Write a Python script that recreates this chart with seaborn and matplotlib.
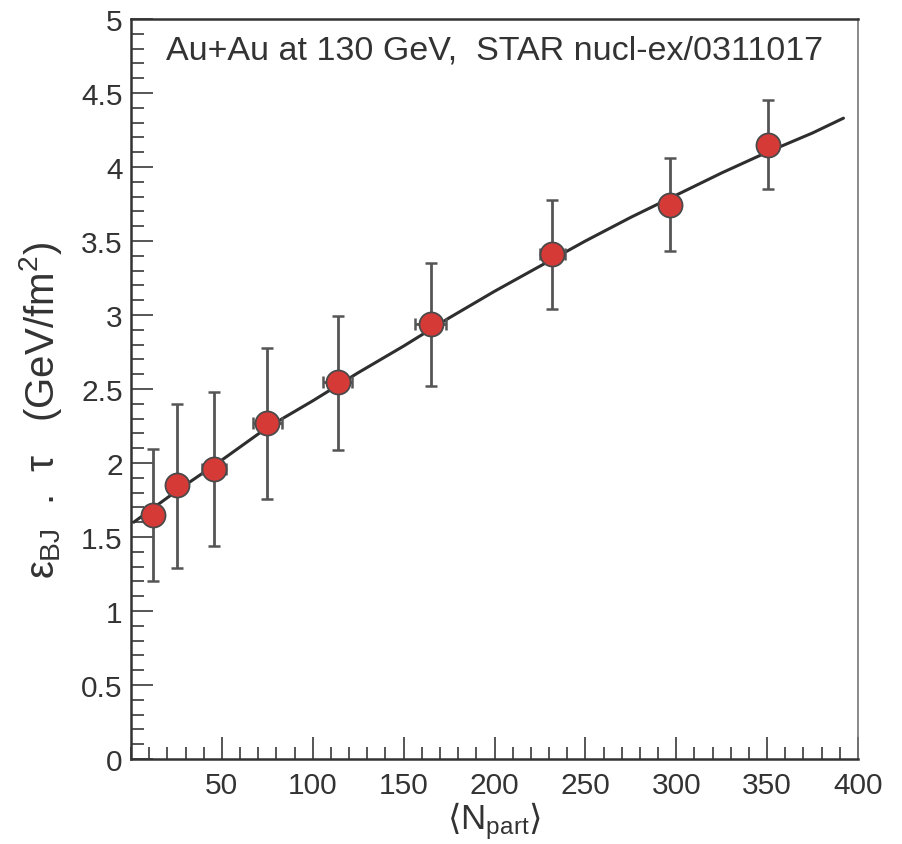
import numpy as np
import pandas as pd
import matplotlib
matplotlib.use("Agg")
import matplotlib.pyplot as plt
from matplotlib.ticker import MultipleLocator
import seaborn as sns

# ---- data ----
npart = [12.1, 25.3, 45.8, 75.1, 113.7, 165.0, 231.9, 296.3, 350.5]
eps_tau = [1.65, 1.85, 1.96, 2.27, 2.545, 2.94, 3.41, 3.74, 4.15]
err_low = [0.445, 0.56, 0.52, 0.51, 0.455, 0.42, 0.37, 0.31, 0.30]
err_high = [0.445, 0.55, 0.52, 0.51, 0.445, 0.41, 0.37, 0.32, 0.30]
npart_err = [3, 4, 6.5, 8, 8, 8.5, 7, 4, 4]

fit_x = [1.5, 25, 50, 75, 100, 125, 150, 175, 200, 225, 250, 275, 300, 325, 350, 375, 392]
fit_y = [1.60, 1.81, 2.02, 2.24, 2.42, 2.61, 2.79, 2.98, 3.16, 3.33, 3.50, 3.66, 3.81, 3.96, 4.10, 4.23, 4.33]

x_ticks = [50, 100, 150, 200, 250, 300, 350, 400]
y_ticks = [0, 0.5, 1, 1.5, 2, 2.5, 3, 3.5, 4, 4.5, 5]
y_ticklabels = ["0", "0.5", "1", "1.5", "2", "2.5", "3", "3.5", "4", "4.5", "5"]

annotation = "Au+Au at 130 GeV,  STAR nucl-ex/0311017"
x_title = "$\\mathsf{\u27e8}$N$_{\\mathrm{part}}$$\\mathsf{\u27e9}$"
y_title = "$\\varepsilon_{\\mathrm{BJ}}$  .  $\\tau$   (GeV/fm$^{2}$)"

# ---- style ----
sns.set_theme(style="ticks")
plt.rcParams["font.family"] = ["Liberation Sans", "DejaVu Sans"]
plt.rcParams["mathtext.fontset"] = "custom"
plt.rcParams["mathtext.rm"] = "Liberation Sans"
plt.rcParams["mathtext.it"] = "Liberation Sans"
plt.rcParams["mathtext.bf"] = "Liberation Sans:bold"
plt.rcParams["mathtext.sf"] = "DejaVu Sans"

fig = plt.figure(figsize=(9.02, 8.45), dpi=100)
ax = fig.add_axes([131 / 902, 85 / 845, 727 / 902, 740 / 845])

pts = pd.DataFrame({"npart": npart, "eps": eps_tau})
fit = pd.DataFrame({"x": fit_x, "y": fit_y})

sns.lineplot(data=fit, x="x", y="y", ax=ax, color="#2e2e2e", lw=2.2, zorder=2)
ax.errorbar(npart, eps_tau, yerr=[err_low, err_high], xerr=npart_err,
            fmt="none", ecolor="#555555", elinewidth=2.0, capsize=4.5,
            capthick=1.8, zorder=3)
sns.scatterplot(data=pts, x="npart", y="eps", ax=ax, s=300, color="#d63a37",
                edgecolor="#4a4a4a", linewidth=1.3, zorder=4, legend=False)

ax.set_xlim(0, 400)
ax.set_ylim(0, 5)
ax.set_xticks(x_ticks)
ax.set_xticklabels([str(t) for t in x_ticks])
ax.set_yticks(y_ticks)
ax.set_yticklabels(y_ticklabels)
ax.xaxis.set_minor_locator(MultipleLocator(10))
ax.yaxis.set_minor_locator(MultipleLocator(0.1))

ax.tick_params(axis="both", which="major", direction="in", length=16,
               width=1.4, color="#555555", labelsize=21.5, labelcolor="#333333")
ax.tick_params(axis="both", which="minor", direction="in", length=9,
               width=1.4, color="#555555")
ax.tick_params(axis="x", which="major", pad=9)
ax.tick_params(axis="y", which="major", pad=6)
ax.tick_params(top=False, right=False, which="both")

for side in ["left", "bottom", "top"]:
    ax.spines[side].set_color("#333333")
    ax.spines[side].set_linewidth(1.8)
ax.spines["right"].set_color("#777777")
ax.spines["right"].set_linewidth(1.2)

ax.set_xlabel(x_title, fontsize=25, color="#333333")
ax.xaxis.label.set_va("baseline")
ax.xaxis.set_label_coords(0.5, (760 - 829) / 740)
ax.set_ylabel(y_title, fontsize=29, color="#333333")
ax.yaxis.set_label_coords((64 - 131) / 727, 0.473)

ax.text(0.048, 0.946, annotation, transform=ax.transAxes, fontsize=24.5,
        color="#333333", ha="left", va="baseline")

fig.savefig("out.png", dpi=100)
